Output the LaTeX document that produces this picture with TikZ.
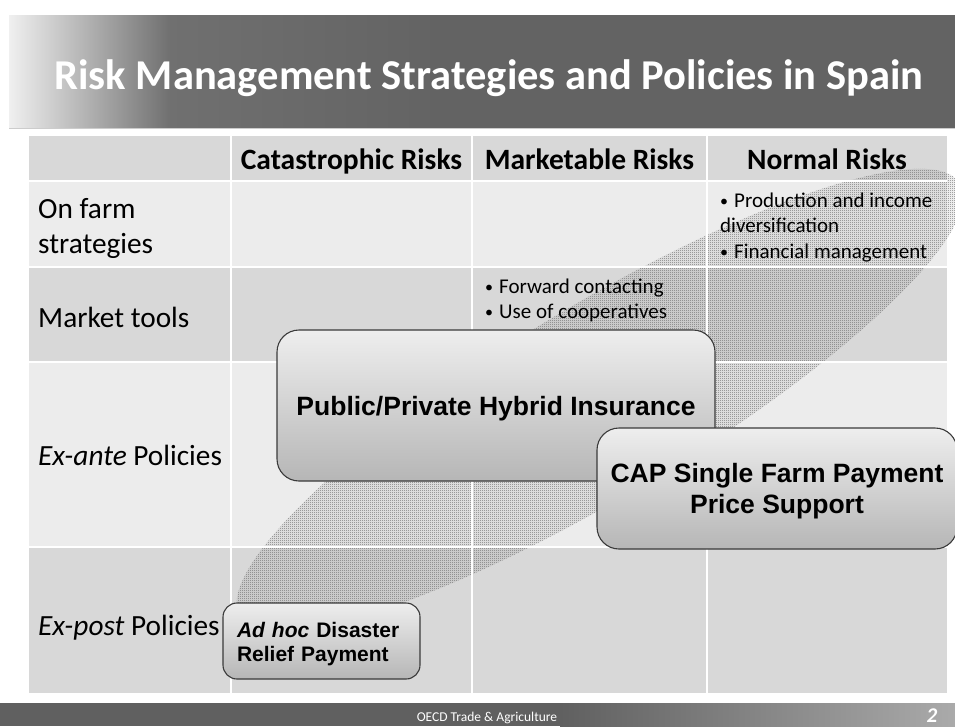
\documentclass[tikz,border=0pt]{standalone}
\usepackage{fontspec}
\setmainfont{Carlito}
\newfontfamily\arialfont{Liberation Sans}
\usetikzlibrary{patterns}

\definecolor{cellDark}{HTML}{D8D8D8}
\definecolor{cellLight}{HTML}{ECECEC}
\definecolor{barDark}{HTML}{636363}
\definecolor{dotGray}{HTML}{6E6E6E}
\definecolor{boxTop}{HTML}{EEEEEE}
\definecolor{boxBottom}{HTML}{B6B6B6}
\definecolor{boxLine}{HTML}{3A3A3A}
\definecolor{footDark}{HTML}{606060}
\definecolor{footLight}{HTML}{AAAAAA}

% fine checkerboard of dots
\pgfdeclarepatternformonly{checkdots}{\pgfqpoint{0pt}{0pt}}{\pgfqpoint{2pt}{2pt}}{\pgfqpoint{2pt}{2pt}}{%
  \pgfpathrectangle{\pgfqpoint{0pt}{0pt}}{\pgfqpoint{1pt}{1pt}}%
  \pgfpathrectangle{\pgfqpoint{1pt}{1pt}}{\pgfqpoint{1pt}{1pt}}%
  \pgfusepath{fill}}

% invisible strut fixing the height of a first line
\newcommand{\toprule}[1]{\rule{0pt}{#1}}
% small list bullet followed by a gap
\newcommand{\bul}{{\fontsize{16}{16}\selectfont\raisebox{1pt}{•}}\hspace{6pt}}

\tikzset{
  hdr/.style={font=\bfseries\fontsize{29.5}{35}\selectfont, inner sep=0pt, anchor=base},
  rowlbl/.style={font=\fontsize{29.3}{35}\selectfont, align=left, inner sep=0pt},
  bullets/.style={font=\fontsize{21}{25.5}\selectfont, anchor=north west, align=left, inner sep=0pt},
  policybox/.style={draw=boxLine, line width=1.1pt, top color=boxTop, bottom color=boxBottom,
    rounded corners=22pt, inner sep=0pt, align=center,
    font=\arialfont\bfseries\fontsize{26.5}{31}\selectfont},
  gridline/.style={white, line width=2.4pt},
}

\begin{document}
\begin{tikzpicture}[x=1pt, y=-1pt]
\useasboundingbox (0,0) rectangle (955,726);
\fill[white] (0,0) rectangle (955,726);

% title bar
\fill[barDark] (9,15) rectangle (955,128);
\shade[left color=gray!12, right color=gray!45!barDark] (9,15) rectangle (170,128);
\shade[left color=gray!45!barDark, right color=barDark] (170,15) rectangle (440,128);
\draw[gray!40, line width=1pt] (9,128) -- (955,128);
\node[font=\bfseries\fontsize{42.5}{46}\selectfont, text=white, inner sep=0pt, anchor=base] (title) at (489,89)
  {Risk Management Strategies and Policies in Spain};

% table cells
\fill[cellDark]  (29,136) rectangle (947,181);
\fill[cellLight] (29,181) rectangle (947,267);
\fill[cellDark]  (29,267) rectangle (947,362);
\fill[cellLight] (29,362) rectangle (947,547);
\fill[cellDark]  (29,547) rectangle (947,693);

% dotted band behind the policies
\begin{scope}[shift={(600,400)}, rotate=31]
  \fill[pattern=checkdots, pattern color=dotGray] (0,0) ellipse [x radius=420pt, y radius=95pt];
\end{scope}

% grid
\foreach \yy in {181,267,362,547} \draw[gridline] (29,\yy) -- (947,\yy);
\foreach \xx in {231,472,707} \draw[gridline] (\xx,136) -- (\xx,693);

% header
\node[hdr] (hcat) at (351.5,169) {Catastrophic Risks};
\node[hdr] (hmkt) at (589.5,169) {Marketable Risks};
\node[hdr] (hnrm) at (827,169) {Normal Risks};

% row labels
\node[rowlbl, anchor=north west] (rfarm) at (38,196) {\toprule{22pt}On farm\\strategies};
\node[rowlbl, anchor=base west] (rmkt) at (38,327) {Market tools};
\node[rowlbl, anchor=base west] (rante) at (38,465) {\textit{Ex-ante} Policies};
\node[rowlbl, anchor=base west] (rpost) at (38,635) {\textit{Ex-post} Policies};

% cell entries
\node[bullets] (normal) at (720,192) {\toprule{15pt}\bul Production and income\\diversification\\\bul Financial management};
\node[bullets] (market) at (485,278) {\toprule{15pt}\bul Forward contacting\\\bul Use of cooperatives};

% policy boxes
\node[policybox, minimum width=438pt, minimum height=151pt] (pub) at (496,405.5)
  {\toprule{24.6pt}Public/Private Hybrid Insurance};
\node[policybox, minimum width=360pt, minimum height=121pt] (cap) at (777,488.5)
  {\toprule{24pt}CAP Single Farm Payment\\Price Support};
\node[policybox, rounded corners=14pt, minimum height=76pt, text width=169pt, inner xsep=14pt,
  align=left, font=\arialfont\bfseries\fontsize{21}{24}\selectfont] (adhoc) at (321.5,641)
  {\toprule{20.4pt}\textit{Ad hoc} Disaster\\Relief Payment};

% footer bar
\fill[footDark] (0,703) rectangle (955,726);
\shade[left color=footDark, right color=footLight] (560,703) rectangle (955,726);
\node[text=white, font=\fontsize{13.5}{15}\selectfont, inner sep=0pt, anchor=base] (foot) at (487,721) {OECD Trade \& Agriculture};
\node[text=white, font=\bfseries\itshape\fontsize{21}{23}\selectfont, inner sep=0pt, anchor=base] (pg) at (932,722) {2};
\end{tikzpicture}
\end{document}
